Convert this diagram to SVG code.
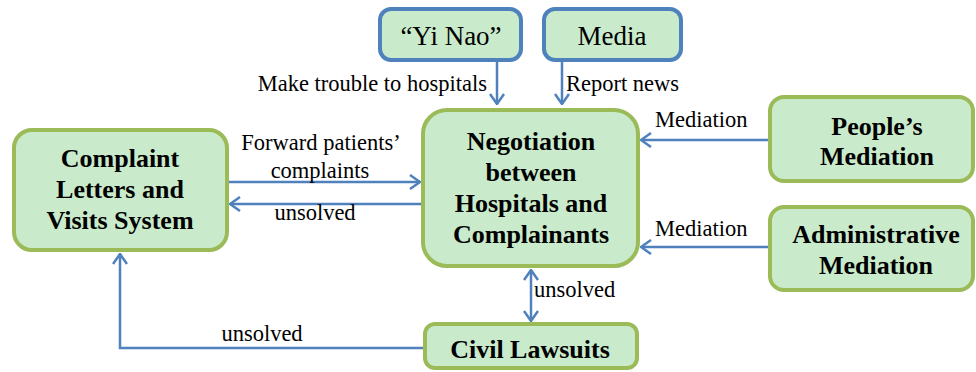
<svg xmlns="http://www.w3.org/2000/svg" width="976" height="372" viewBox="0 0 976 372" font-family="'Liberation Serif', 'DejaVu Serif', serif">
<style>
.g{fill:#c9ebcb;stroke:#9bbb59;stroke-width:4}
.b{fill:#c9ebcb;stroke:#4f81bd;stroke-width:4}
.t{font-weight:bold;font-size:26px;text-anchor:middle}
.r{font-size:27px;text-anchor:middle}
.l{font-size:22.5px}
.m{text-anchor:middle}
.e{text-anchor:end}
.c{fill:none;stroke:#4f81bd;stroke-width:2.5}
</style>
<defs>
<marker id="arr" viewBox="0 0 12 16" refX="11" refY="8" markerWidth="12" markerHeight="16" markerUnits="userSpaceOnUse" orient="auto-start-reverse">
<path d="M1,1 L11,8 L1,15" fill="none" stroke="#4f81bd" stroke-width="2.5"/>
</marker>
</defs>
<rect width="976" height="372" fill="#fff"/>
<g id="connectors">
<line class="c" x1="497" y1="62" x2="497" y2="104" marker-end="url(#arr)"/>
<line class="c" x1="562" y1="62" x2="562" y2="104" marker-end="url(#arr)"/>
<line class="c" x1="229" y1="182" x2="420" y2="182" marker-end="url(#arr)"/>
<line class="c" x1="421" y1="204" x2="230" y2="204" marker-end="url(#arr)"/>
<line class="c" x1="768" y1="140" x2="641" y2="140" marker-end="url(#arr)"/>
<line class="c" x1="768" y1="247" x2="641" y2="247" marker-end="url(#arr)"/>
<line class="c" x1="531" y1="270" x2="531" y2="321" marker-start="url(#arr)" marker-end="url(#arr)"/>
<polyline class="c" points="423,348 120,348 120,254" marker-end="url(#arr)"/>
<text class="l e" x="487" y="91">Make trouble to hospitals</text>
<text class="l" x="566" y="91">Report news</text>
<text class="l m" x="321" y="150">Forward patients’</text>
<text class="l m" x="320" y="178">complaints</text>
<text class="l m" x="315" y="220">unsolved</text>
<text class="l" x="655" y="127">Mediation</text>
<text class="l" x="655" y="236">Mediation</text>
<text class="l" x="534" y="297">unsolved</text>
<text class="l m" x="262" y="341">unsolved</text>
</g>
<g id="yinao">
<rect class="b" x="380" y="9" width="141" height="51" rx="11"/>
<text class="r" x="451" y="45">“Yi Nao”</text>
</g>
<g id="media">
<rect class="b" x="544" y="9" width="137" height="51" rx="11"/>
<text class="r" x="612" y="45">Media</text>
</g>
<g id="complaint">
<rect class="g" x="14" y="130" width="213" height="120" rx="18"/>
<text class="t" x="120" y="167">Complaint</text>
<text class="t" x="120" y="198">Letters and</text>
<text class="t" x="120" y="229">Visits System</text>
</g>
<g id="negotiation">
<rect class="g" x="423" y="110" width="215" height="156" rx="24"/>
<text class="t" x="531" y="150">Negotiation</text>
<text class="t" x="531" y="181">between</text>
<text class="t" x="531" y="212">Hospitals and</text>
<text class="t" x="531" y="243">Complainants</text>
</g>
<g id="peoples">
<rect class="g" x="770" y="97" width="203" height="84" rx="14"/>
<text class="t" x="877" y="135">People’s</text>
<text class="t" x="877" y="165">Mediation</text>
</g>
<g id="administrative">
<rect class="g" x="770" y="207" width="203" height="83" rx="14"/>
<text class="t" x="876" y="243">Administrative</text>
<text class="t" x="876" y="274">Mediation</text>
</g>
<g id="civil">
<rect class="g" x="425" y="324" width="212" height="44" rx="10"/>
<text class="t" x="530" y="358">Civil Lawsuits</text>
</g>
</svg>
